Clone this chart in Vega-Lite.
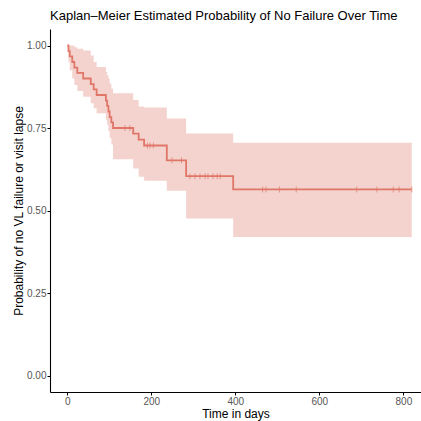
{
  "$schema": "https://vega.github.io/schema/vega-lite/v6.json",
  "autosize": "none",
  "width": 371,
  "height": 363,
  "padding": {"left": 50, "top": 29, "right": 0, "bottom": 29},
  "background": "white",
  "title": {
    "text": "Kaplan–Meier Estimated Probability of No Failure Over Time",
    "anchor": "start",
    "frame": "group",
    "fontSize": 13,
    "fontWeight": "normal",
    "font": "Liberation Sans",
    "color": "black",
    "offset": 6
  },
  "config": {
    "font": "Liberation Sans",
    "view": {"stroke": null},
    "axis": {
      "grid": false,
      "domainColor": "black",
      "domainWidth": 1.1,
      "tickColor": "black",
      "tickWidth": 1,
      "tickSize": 3,
      "labelColor": "#555555",
      "labelFontSize": 10,
      "labelPadding": 1,
      "titleColor": "black",
      "titleFontSize": 12,
      "titleFontWeight": "normal"
    }
  },
  "datasets": {
    "km": [
      {"time": 0, "surv": 1.000, "lower": 1.000, "upper": 1.000},
      {"time": 3, "surv": 0.983, "lower": 0.950, "upper": 1.000},
      {"time": 6, "surv": 0.967, "lower": 0.925, "upper": 1.000},
      {"time": 12, "surv": 0.950, "lower": 0.900, "upper": 1.000},
      {"time": 17, "surv": 0.933, "lower": 0.880, "upper": 0.995},
      {"time": 24, "surv": 0.917, "lower": 0.862, "upper": 0.990},
      {"time": 38, "surv": 0.900, "lower": 0.845, "upper": 0.985},
      {"time": 56, "surv": 0.883, "lower": 0.825, "upper": 0.970},
      {"time": 63, "surv": 0.867, "lower": 0.810, "upper": 0.950},
      {"time": 70, "surv": 0.850, "lower": 0.795, "upper": 0.935},
      {"time": 92, "surv": 0.833, "lower": 0.775, "upper": 0.920},
      {"time": 95, "surv": 0.817, "lower": 0.760, "upper": 0.910},
      {"time": 98, "surv": 0.800, "lower": 0.740, "upper": 0.900},
      {"time": 101, "surv": 0.783, "lower": 0.720, "upper": 0.885},
      {"time": 105, "surv": 0.767, "lower": 0.700, "upper": 0.870},
      {"time": 109, "surv": 0.750, "lower": 0.655, "upper": 0.855},
      {"time": 157, "surv": 0.733, "lower": 0.627, "upper": 0.835},
      {"time": 170, "surv": 0.715, "lower": 0.602, "upper": 0.815},
      {"time": 183, "surv": 0.697, "lower": 0.590, "upper": 0.812},
      {"time": 237, "surv": 0.652, "lower": 0.560, "upper": 0.779},
      {"time": 283, "surv": 0.604, "lower": 0.476, "upper": 0.733},
      {"time": 395, "surv": 0.564, "lower": 0.420, "upper": 0.705},
      {"time": 820, "surv": 0.564, "lower": 0.420, "upper": 0.705}
    ],
    "censor": [
      {"time": 137, "surv": 0.750},
      {"time": 149, "surv": 0.750},
      {"time": 191, "surv": 0.697},
      {"time": 197, "surv": 0.697},
      {"time": 205, "surv": 0.697},
      {"time": 249, "surv": 0.652},
      {"time": 272, "surv": 0.652},
      {"time": 292, "surv": 0.604},
      {"time": 304, "surv": 0.604},
      {"time": 316, "surv": 0.604},
      {"time": 328, "surv": 0.604},
      {"time": 335, "surv": 0.604},
      {"time": 347, "surv": 0.604},
      {"time": 357, "surv": 0.604},
      {"time": 364, "surv": 0.604},
      {"time": 465, "surv": 0.564},
      {"time": 473, "surv": 0.564},
      {"time": 505, "surv": 0.564},
      {"time": 545, "surv": 0.564},
      {"time": 689, "surv": 0.564},
      {"time": 737, "surv": 0.564},
      {"time": 776, "surv": 0.564},
      {"time": 790, "surv": 0.564},
      {"time": 820, "surv": 0.564}
    ]
  },
  "encoding": {
    "x": {
      "field": "time",
      "type": "quantitative",
      "scale": {"domain": [-41, 842], "nice": false, "zero": false},
      "axis": {"values": [0, 200, 400, 600, 800], "title": "Time in days", "titlePadding": 2}
    },
    "y": {
      "field": "surv",
      "type": "quantitative",
      "scale": {"domain": [-0.05, 1.05], "nice": false, "zero": false},
      "axis": {"values": [0, 0.25, 0.5, 0.75, 1], "format": ".2f", "title": "Probability of no VL failure or visit lapse", "titlePadding": 1}
    }
  },
  "layer": [
    {
      "data": {"name": "km"},
      "mark": {"type": "area", "interpolate": "step-after", "color": "#F4D3CF", "opacity": 1},
      "encoding": {
        "y": {"field": "lower", "type": "quantitative"},
        "y2": {"field": "upper"}
      }
    },
    {
      "data": {"name": "km"},
      "mark": {"type": "line", "interpolate": "step-after", "color": "#DF7668", "strokeWidth": 1.8},
      "encoding": {}
    },
    {
      "data": {"name": "censor"},
      "mark": {"type": "tick", "orient": "vertical", "color": "#DF7668", "thickness": 1, "size": 6},
      "encoding": {}
    }
  ]
}
